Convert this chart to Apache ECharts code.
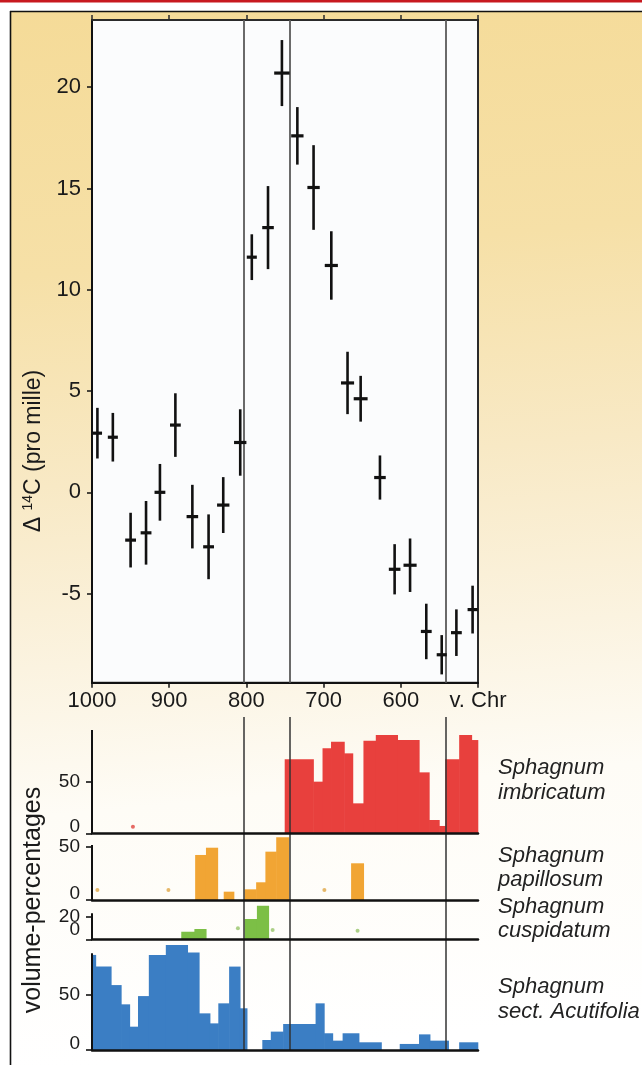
<!DOCTYPE html>
<html>
<head>
<meta charset="utf-8">
<script src="https://cdn.jsdelivr.net/npm/echarts@6/dist/echarts.min.js"></script>
<style>
  html, body { margin: 0; padding: 0; background: #fff; }
  #main { width: 642px; height: 1065px; }
</style>
</head>
<body>
<div id="main"></div>
<script>
// delta 14C measurements (years BC, pro mille)
var d14cYears = [993, 973, 950, 930, 912, 892, 870, 849, 830, 808, 793, 772, 754, 734, 713, 690, 669, 652, 627, 608, 588, 567, 547, 528, 507];
var d14cValues = [2.92, 2.72, -2.36, -2.0, 0, 3.32, -1.2, -2.69, -0.63, 2.46, 11.61, 13.07, 20.7, 17.6, 15.05, 11.2, 5.4, 4.62, 0.73, -3.8, -3.6, -6.87, -8.02, -6.93, -5.79];
var d14cErrors = [1.25, 1.2, 1.35, 1.57, 1.4, 1.57, 1.57, 1.6, 1.38, 1.64, 1.13, 2.05, 1.63, 1.42, 2.09, 1.69, 1.54, 1.13, 1.09, 1.24, 1.32, 1.37, 0.97, 1.15, 1.18];
var d14cYearErrors = [6, 6.5, 7, 7, 7, 7, 7.5, 7, 8, 8, 6.5, 7.5, 10, 8, 8, 8.5, 8.5, 9, 7.5, 7.5, 8.5, 7, 6.5, 7, 6.5];

var xTicks = [1000, 900, 800, 700, 600, 500];
var xTickLabels = ["1000", "900", "800", "700", "600", "v. Chr"];
var yTicksTop = [-5, 0, 5, 10, 15, 20];
var markerYears = [803, 744, 542];

// volume percentages, bins given by edges (years BC)
var imbricatumEdges = [750, 713, 701, 690, 673, 662, 648, 632, 604, 576, 563, 550, 542, 524, 508, 500];
var imbricatumValues = [71.6, 50, 82.3, 88.7, 77.4, 29, 89.6, 95.2, 90.3, 59, 12.9, 7.1, 71.6, 95.2, 90.3];
var imbricatumDotYears = [947];
var imbricatumDotValues = [6.4];

var papillosumEdges = [866, 852, 837, 829, 816, 802, 787, 775, 761, 745, 664, 648];
var papillosumValues = [42.2, 49, 0, 7.8, 0, 10, 16.6, 45.3, 58.8, 0, 34.4];
var papillosumDotYears = [993, 901, 699];
var papillosumDotValues = [9.4, 9.4, 9.4];

var cuspidatumEdges = [884, 867, 852, 802, 786, 771];
var cuspidatumValues = [6.7, 9.1, 0, 18, 29.7];
var cuspidatumDotYears = [811, 766, 656];
var cuspidatumDotValues = [9.7, 8.2, 7.6];

var acutifoliaEdges = [1000, 995, 975, 962, 951, 940, 926, 904, 876, 861, 847, 836, 822, 808, 799, 779, 768, 752, 710, 699, 688, 675, 654, 625, 601, 576, 562, 538, 524, 500];
var acutifoliaValues = [86.4, 75.8, 59, 41.5, 21.2, 49, 86.4, 95.5, 88.5, 33.3, 24.2, 42.4, 75.8, 37.9, 0, 9.1, 16.7, 23.6, 42.4, 15.2, 8.5, 15.2, 7, 0, 5.5, 14.2, 8.5, 0, 7];

var myChart = echarts.init(document.getElementById("main"));
var FONT = "'Liberation Sans', Arial, Helvetica, sans-serif";
var INK = "#1a1a1a";

function histData(edges, values) {
  var out = [];
  for (var i = 0; i < values.length; i++) {
    if (values[i] > 0) out.push([edges[i], edges[i + 1], values[i]]);
  }
  return out;
}
function pairs(xs, ys) {
  return xs.map(function (x, i) { return [x, ys[i]]; });
}

function renderBar(params, api) {
  var a = api.coord([api.value(0), api.value(2)]);
  var b = api.coord([api.value(1), 0]);
  var x = Math.min(a[0], b[0]);
  return {
    type: "rect",
    shape: { x: x - 0.3, y: a[1], width: Math.abs(b[0] - a[0]) + 0.6, height: b[1] - a[1] },
    style: { fill: api.visual("color") }
  };
}

function renderErr(params, api) {
  var x = api.value(0), y = api.value(1), e = api.value(2), xe = api.value(3);
  var top = api.coord([x, y + e]);
  var bot = api.coord([x, y - e]);
  var l = api.coord([x - xe, y]);
  var r = api.coord([x + xe, y]);
  return {
    type: "group",
    children: [
      { type: "line", shape: { x1: top[0], y1: top[1], x2: bot[0], y2: bot[1] }, style: { stroke: "#111", lineWidth: 2.6 } },
      { type: "line", shape: { x1: l[0], y1: l[1], x2: r[0], y2: r[1] }, style: { stroke: "#111", lineWidth: 3.2 } }
    ]
  };
}

// lower panels: grid placement, y max, axis line top, ticks and label spots
var panels = [
  { top: 717, height: 116.3, max: 112.6, axisTop: 100, ticks: [0, 50], labels: [6.4, 50], texts: ["0", "50"] },
  { top: 833.3, height: 66.7, max: 62.5, axisTop: 51.5, ticks: [0, 50], labels: [6.3, 50], texts: ["0", "50"] },
  { top: 900, height: 39.3, max: 34.8, axisTop: 23, ticks: [0, 20], labels: [14.2], texts: ["20\n0"] },
  { top: 939.3, height: 110.7, max: 100.6, axisTop: 88, ticks: [0, 50], labels: [6, 50], texts: ["0", "50"] }
];
var panelBars = [
  histData(imbricatumEdges, imbricatumValues),
  histData(papillosumEdges, papillosumValues),
  histData(cuspidatumEdges, cuspidatumValues),
  histData(acutifoliaEdges, acutifoliaValues)
];
var panelDots = [
  pairs(imbricatumDotYears, imbricatumDotValues),
  pairs(papillosumDotYears, papillosumDotValues),
  pairs(cuspidatumDotYears, cuspidatumDotValues),
  []
];
var panelColors = ["#e8403d", "#f1a534", "#7cbf46", "#3b7ec4"];
var dotColors = ["#e0453f", "#e0a646", "#97c46a", "#3b7ec4"];

var grids = [
  { left: 92, top: 20, width: 386, height: 662.7, show: true, backgroundColor: "#fbfcfd", borderColor: "#2a2a2a", borderWidth: 2, outerBoundsMode: "none", containLabel: false }
];
var xAxes = [
  {
    gridIndex: 0, type: "value", min: 500, max: 1000, interval: 100, inverse: true,
    axisLine: { show: true, onZero: false, lineStyle: { color: "#111", width: 2 } },
    axisTick: { show: true, length: 5, lineStyle: { color: "#111", width: 1.5 } },
    axisLabel: {
      fontSize: 22, color: INK, fontFamily: FONT, margin: 7,
      formatter: function (v) { var i = xTicks.indexOf(v); return i < 0 ? "" : xTickLabels[i]; }
    },
    splitLine: { show: false }
  },
  {
    gridIndex: 0, type: "value", position: "top", min: 500, max: 1000, interval: 100, inverse: true,
    axisLine: { show: true, onZero: false, lineStyle: { color: "#2a2a2a", width: 2 } },
    axisTick: { show: true, length: 5, lineStyle: { color: "#2a2a2a", width: 1.5 } },
    axisLabel: { show: false },
    splitLine: { show: false }
  }
];
var yAxes = [
  {
    gridIndex: 0, type: "value", min: -9.4, max: 23.32,
    axisLine: { show: true, lineStyle: { color: "#111", width: 2 } },
    axisTick: { show: true, length: 5, customValues: yTicksTop, lineStyle: { color: "#111", width: 1.5 } },
    axisLabel: { customValues: yTicksTop, fontSize: 22, color: INK, fontFamily: FONT, margin: 11 },
    splitLine: { show: false }
  }
];

var series = [
  {
    type: "custom", name: "d14c", xAxisIndex: 0, yAxisIndex: 0, z: 5,
    renderItem: renderErr,
    encode: { x: 0, y: 1 },
    data: d14cYears.map(function (y, i) { return [y, d14cValues[i], d14cErrors[i], d14cYearErrors[i]]; })
  },
  {
    type: "line", xAxisIndex: 0, yAxisIndex: 0, data: [[1000, 0]], showSymbol: false, symbolSize: 0,
    lineStyle: { opacity: 0 }, z: 4, silent: true,
    markLine: {
      silent: true, symbol: ["none", "none"], animation: false, label: { show: false },
      lineStyle: { color: "#5a5a5a", width: 1.8, type: "solid" },
      data: markerYears.map(function (y) { return { xAxis: y }; })
    }
  }
];

panels.forEach(function (p, k) {
  var gi = k + 1;   // grid / yAxis index
  var xi = k + 2;   // xAxis index (grid 0 has two x axes)
  grids.push({ left: 92, top: p.top, width: 386, height: p.height, outerBoundsMode: "none", containLabel: false });
  xAxes.push({
    gridIndex: gi, type: "value", min: 500, max: 1000, inverse: true, z: 10,
    axisLine: { show: true, onZero: false, lineStyle: { color: "#111", width: 2.5 } },
    axisTick: { show: false }, axisLabel: { show: false }, splitLine: { show: false }
  });
  yAxes.push({
    gridIndex: gi, type: "value", min: 0, max: p.max,
    axisLine: { show: false },
    axisTick: { show: true, length: 6, customValues: p.ticks, lineStyle: { color: "#111", width: 1.6 } },
    axisLabel: {
      customValues: p.labels, fontSize: 19, lineHeight: 13.5, color: INK, fontFamily: FONT, margin: 12,
      formatter: function (v) { var i = p.labels.indexOf(v); return i < 0 ? "" : p.texts[i]; }
    },
    splitLine: { show: false }
  });
  series.push({
    type: "custom", xAxisIndex: xi, yAxisIndex: gi, z: 2,
    renderItem: renderBar,
    itemStyle: { color: panelColors[k] },
    encode: { x: [0, 1], y: 2 },
    data: panelBars[k]
  });
  if (panelDots[k].length) {
    series.push({
      type: "scatter", xAxisIndex: xi, yAxisIndex: gi, z: 3,
      symbolSize: 4, itemStyle: { color: dotColors[k] },
      data: panelDots[k]
    });
  }
  series.push({
    type: "line", xAxisIndex: xi, yAxisIndex: gi, data: [[1000, 0]], showSymbol: false, symbolSize: 0,
    lineStyle: { opacity: 0 }, z: 6, silent: true,
    markLine: {
      silent: true, symbol: ["none", "none"], animation: false, label: { show: false },
      lineStyle: { color: "#333", width: 1.5, type: "solid" },
      data: markerYears.map(function (y) { return { xAxis: y }; }).concat([
        [{ coord: [1000, 0], lineStyle: { color: "#111", width: 2, type: "solid" } }, { coord: [1000, p.axisTop] }]
      ])
    }
  });
});

var bgGradient = new echarts.graphic.LinearGradient(0, 0, 0.15, 1, [
  { offset: 0, color: "#f5db98" },
  { offset: 0.25, color: "#f6e0a7" },
  { offset: 0.45, color: "#f8e9c5" },
  { offset: 0.62, color: "#fbf3e0" },
  { offset: 0.76, color: "#fefcf6" },
  { offset: 1, color: "#ffffff" }
]);

var speciesStyle = { fontSize: 22, fontStyle: "italic", fontFamily: FONT, fill: "#222", lineHeight: 24.5, align: "left", verticalAlign: "middle" };
function speciesText(text, cy) {
  return { type: "text", x: 498, y: cy, silent: true, style: Object.assign({ text: text }, speciesStyle) };
}

var option = {
  backgroundColor: "#ffffff",
  animation: false,
  textStyle: { fontFamily: FONT },
  grid: grids,
  xAxis: xAxes,
  yAxis: yAxes,
  series: series,
  graphic: [
    { type: "rect", z: -100, silent: true, shape: { x: 11, y: 12, width: 631, height: 1053 }, style: { fill: bgGradient } },
    { type: "rect", silent: true, shape: { x: 0, y: 0, width: 642, height: 2.5 }, style: { fill: "#c8191f" } },
    { type: "line", silent: true, shape: { x1: 10.5, y1: 11, x2: 10.5, y2: 1065 }, style: { stroke: "#111", lineWidth: 1.6 } },
    { type: "line", silent: true, shape: { x1: 10, y1: 11.5, x2: 642, y2: 11.5 }, style: { stroke: "#111", lineWidth: 1.6 } },
    {
      type: "text", x: 34, y: 451, rotation: Math.PI / 2, silent: true,
      style: {
        text: "{d|Δ }{s|14}{d|C (pro mille)}", align: "center", verticalAlign: "middle",
        rich: {
          d: { fontSize: 23, fontFamily: FONT, fill: INK, lineHeight: 26 },
          s: { fontSize: 14, fontFamily: FONT, fill: INK, lineHeight: 26, verticalAlign: "top" }
        }
      }
    },
    {
      type: "text", x: 33, y: 900, rotation: Math.PI / 2, silent: true,
      style: { text: "volume-percentages", fontSize: 25, fontFamily: FONT, fill: INK, align: "center", verticalAlign: "middle" }
    },
    speciesText("Sphagnum\nimbricatum", 780.5),
    speciesText("Sphagnum\npapillosum", 868),
    speciesText("Sphagnum\ncuspidatum", 919),
    speciesText("Sphagnum\nsect. Acutifolia", 999.5)
  ]
};

myChart.setOption(option);
</script>
</body>
</html>
